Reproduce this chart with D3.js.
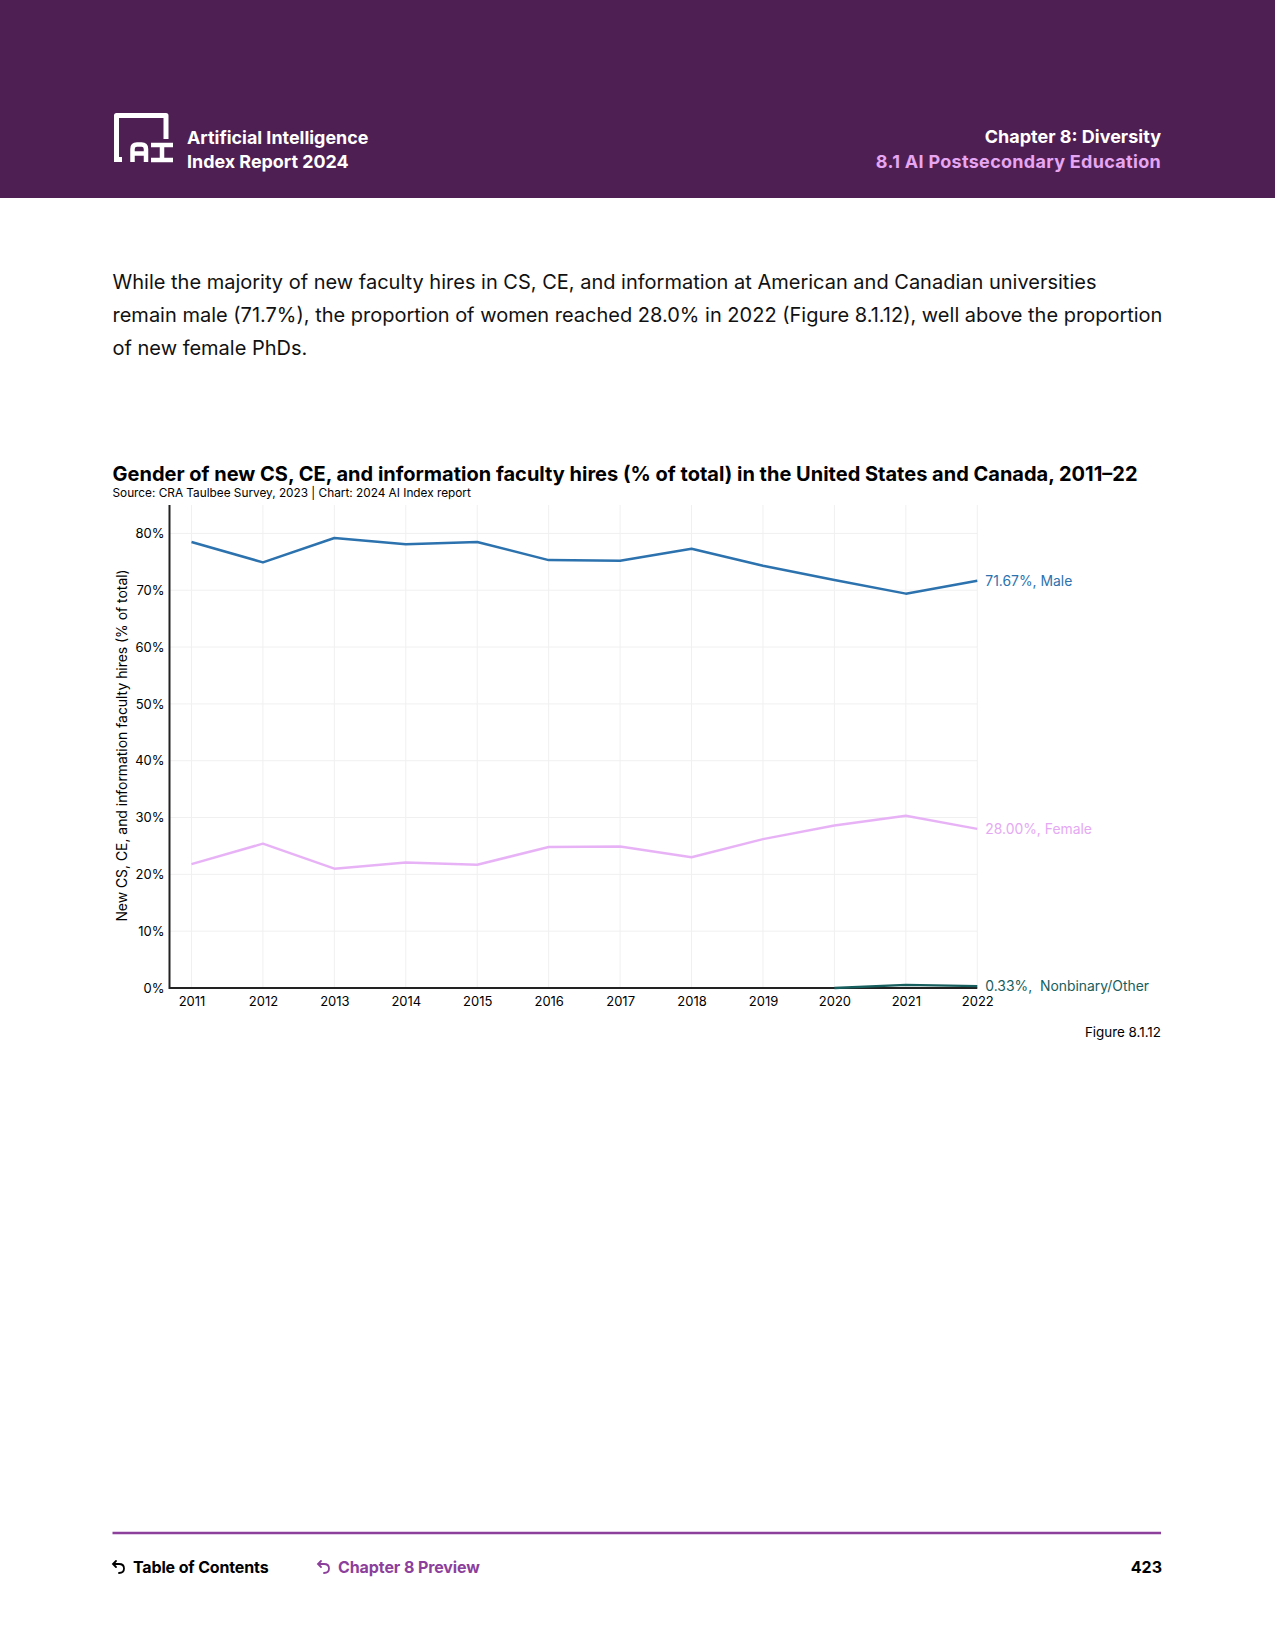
<!DOCTYPE html>
<html>
<head>
<meta charset="utf-8">
<script src="https://cdn.jsdelivr.net/npm/d3@7"></script>
<style>
  html, body { margin: 0; padding: 0; background: #fff; }
  svg { display: block; font-family: "Inter", "Lato", sans-serif; }
</style>
</head>
<body>
<svg id="page" width="1275" height="1650"></svg>
<script>
// ---- data ----
const years = [2011, 2012, 2013, 2014, 2015, 2016, 2017, 2018, 2019, 2020, 2021, 2022];
const male = [78.5, 74.9, 79.2, 78.1, 78.5, 75.3, 75.2, 77.3, 74.3, 71.8, 69.4, 71.67];
const female = [21.8, 25.4, 21.0, 22.1, 21.7, 24.8, 24.9, 23.0, 26.2, 28.6, 30.3, 28.00];
const nonbinary = [null, null, null, null, null, null, null, null, null, 0.0, 0.55, 0.33];
const yTicks = [0, 10, 20, 30, 40, 50, 60, 70, 80];
const seriesNames = ["Male", "Female", "Nonbinary/Other"];
const endLabels = ["71.67%, Male", "28.00%, Female", "0.33%,  Nonbinary/Other"];

const svg = d3.select("#page");

// ---- header ----
svg.append("rect").attr("x", 0).attr("y", 0).attr("width", 1275).attr("height", 198).attr("fill", "#4e1f52");
// logo
const logo = svg.append("g");
logo.append("path").attr("d", "M116.5,161 L116.5,115.5 L166,115.5 L166,139")
  .attr("fill", "none").attr("stroke", "#fff").attr("stroke-width", 5).attr("stroke-linejoin", "round");
logo.append("rect").attr("x", 114).attr("y", 157).attr("width", 8).attr("height", 5).attr("fill", "#fff");
logo.append("path").attr("d", "M132.5,162 V149 Q132.5,144.5 137,144.5 H141.5 Q146,144.5 146,149 V162 M132.5,153.5 H146")
  .attr("fill", "none").attr("stroke", "#fff").attr("stroke-width", 4.5);
logo.append("path").attr("d", "M151,145 H173 M162,145 V160 M151,160 H173")
  .attr("fill", "none").attr("stroke", "#fff").attr("stroke-width", 4.5);

svg.append("text").attr("x", 187).attr("y", 144).attr("fill", "#fff").attr("font-size", 17.9).attr("font-weight", 700)
  .text("Artificial Intelligence");
svg.append("text").attr("x", 187).attr("y", 168).attr("fill", "#fff").attr("font-size", 17.9).attr("font-weight", 700)
  .text("Index Report 2024");
svg.append("text").attr("x", 1161).attr("y", 143).attr("fill", "#fff").attr("font-size", 18).attr("font-weight", 700)
  .attr("text-anchor", "end").text("Chapter 8: Diversity");
svg.append("text").attr("x", 1161).attr("y", 168).attr("fill", "#e6a6f2").attr("font-size", 18).attr("font-weight", 700)
  .attr("text-anchor", "end").attr("letter-spacing", 0.3).text("8.1 AI Postsecondary Education");

// ---- paragraph ----
const para = [
  "While the majority of new faculty hires in CS, CE, and information at American and Canadian universities",
  "remain male (71.7%), the proportion of women reached 28.0% in 2022 (Figure 8.1.12), well above the proportion",
  "of new female PhDs."
];
svg.append("g").selectAll("text").data(para).join("text")
  .attr("x", 112.5).attr("y", (d, i) => 289 + i * 33)
  .attr("font-size", 20).attr("fill", "#111").text(d => d);

// ---- chart title ----
svg.append("text").attr("x", 112.5).attr("y", 481).attr("font-size", 20).attr("font-weight", 700)
  .attr("fill", "#000")
  .text("Gender of new CS, CE, and information faculty hires (% of total) in the United States and Canada, 2011–22");
svg.append("text").attr("x", 112.5).attr("y", 497).attr("font-size", 11.8).attr("fill", "#000")
  .text("Source: CRA Taulbee Survey, 2023 | Chart: 2024 AI Index report");

// ---- scales ----
const x = d3.scaleLinear().domain([2011, 2022]).range([191.5, 977.3]);
const y = d3.scaleLinear().domain([0, 85]).range([988, 505]);
const left = 169.5, right = 977.3;

const g = svg.append("g");
// grid
g.append("g").selectAll("line").data(yTicks.slice(1)).join("line")
  .attr("x1", left).attr("x2", right).attr("y1", d => y(d)).attr("y2", d => y(d))
  .attr("stroke", "#f0f0f0").attr("stroke-width", 1);
g.append("g").selectAll("line").data(years).join("line")
  .attr("x1", d => x(d)).attr("x2", d => x(d)).attr("y1", y(85)).attr("y2", y(0))
  .attr("stroke", "#f0f0f0").attr("stroke-width", 1);

// axes
const yAxis = d3.axisLeft(y).tickValues(yTicks).tickFormat(d => d + "%").tickSize(0).tickPadding(5);
const yg = g.append("g").attr("transform", `translate(${left},0)`).call(yAxis);
yg.select(".domain").remove();
yg.selectAll("text").attr("font-size", 13).attr("fill", "#000").attr("font-family", "Inter, sans-serif");

const xAxis = d3.axisBottom(x).tickValues(years).tickFormat(d3.format("d")).tickSize(0).tickPadding(9);
const xg = g.append("g").attr("transform", `translate(0,${y(0)})`).call(xAxis);
xg.select(".domain").remove();
xg.selectAll("text").attr("font-size", 13).attr("fill", "#000").attr("font-family", "Inter, sans-serif");

g.append("line").attr("x1", left).attr("x2", left).attr("y1", y(85)).attr("y2", y(0) + 1)
  .attr("stroke", "#222").attr("stroke-width", 2);
g.append("line").attr("x1", left).attr("x2", right).attr("y1", y(0)).attr("y2", y(0))
  .attr("stroke", "#222").attr("stroke-width", 2);

// y-axis title
svg.append("text").attr("transform", `translate(127,${(y(0) + y(85)) / 2 - 1}) rotate(-90)`)
  .attr("text-anchor", "middle").attr("font-size", 13.9).attr("fill", "#000")
  .text("New CS, CE, and information faculty hires (% of total)");

// lines
const series = [
  { name: seriesNames[0], values: male, color: "#2c72ae", text: "#2c72ae", label: endLabels[0] },
  { name: seriesNames[1], values: female, color: "#e8b3f6", text: "#e5a9f3", label: endLabels[1] },
  { name: seriesNames[2], values: nonbinary, color: "#175e5e", text: "#175e5e", label: endLabels[2] }
];
const line = d3.line().defined(d => d.v != null).x(d => x(d.year)).y(d => y(d.v));
series.forEach(s => {
  const pts = years.map((yr, i) => ({ year: yr, v: s.values[i] }));
  g.append("path").datum(pts).attr("d", line).attr("fill", "none")
    .attr("stroke", s.color).attr("stroke-width", 2.5).attr("stroke-linejoin", "round");
  const last = pts[pts.length - 1];
  g.append("text").attr("x", x(last.year) + 8).attr("y", y(last.v)).attr("dy", "0.35em")
    .attr("font-size", 13.9).attr("fill", s.text)
    .style("white-space", "pre").text(s.label);
});

// figure label
svg.append("text").attr("x", 1161).attr("y", 1037).attr("text-anchor", "end").attr("font-size", 13.4)
  .attr("fill", "#000").text("Figure 8.1.12");

// ---- footer ----
svg.append("line").attr("x1", 112.5).attr("x2", 1161).attr("y1", 1533).attr("y2", 1533)
  .attr("stroke", "#8d3f9c").attr("stroke-width", 2.5);
function arrow(xp, yp, color) {
  svg.append("path")
    .attr("d", `M${xp + 3},${yp - 11} L${xp},${yp - 8} L${xp + 3},${yp - 5} M${xp},${yp - 8} L${xp + 6},${yp - 8} Q${xp + 11},${yp - 8} ${xp + 11},${yp - 3.5} Q${xp + 11},${yp + 1} ${xp + 6},${yp + 1}`)
    .attr("fill", "none").attr("stroke", color).attr("stroke-width", 1.8).attr("stroke-linecap", "round");
}
arrow(113, 1572, "#000");
svg.append("text").attr("x", 133).attr("y", 1573).attr("font-size", 16).attr("font-weight", 700)
  .attr("fill", "#000").attr("letter-spacing", -0.15).text("Table of Contents");
arrow(318, 1572, "#8d3f9c");
svg.append("text").attr("x", 338).attr("y", 1573).attr("font-size", 16).attr("font-weight", 700)
  .attr("fill", "#8d3f9c").attr("letter-spacing", -0.1).text("Chapter 8 Preview");
svg.append("text").attr("x", 1162).attr("y", 1573).attr("text-anchor", "end").attr("font-size", 16).attr("font-weight", 700)
  .attr("fill", "#000").text("423");
</script>
</body>
</html>
